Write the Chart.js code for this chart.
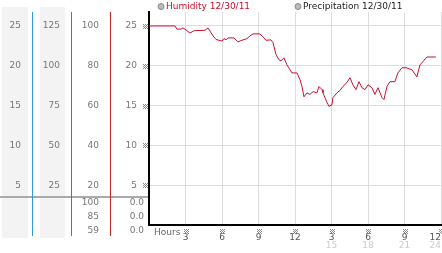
<!DOCTYPE html>
<html>
<head>
<meta charset="utf-8">
<script src="https://cdn.jsdelivr.net/npm/chart.js@4/dist/chart.umd.min.js"></script>
<style>
  html, body { margin: 0; padding: 0; background: #fff; }
  canvas { display: block; }
</style>
</head>
<body>
<canvas id="chart" width="442" height="253"></canvas>
<script>
// humidity readings of the day (hour of day, value)
const hours = [0, 2.14, 2.30, 2.63, 2.79, 3.04, 3.37, 3.70, 4.60, 4.85, 5.26, 5.51, 6.00, 6.16, 6.33, 6.49,
  6.98, 7.31, 7.72, 8.05, 8.30, 8.55, 9.12, 9.45, 9.61, 10.02, 10.19, 10.44, 10.68, 10.85, 11.09, 11.34,
  11.59, 11.75, 12.16, 12.41, 12.57, 12.74, 12.98, 13.23, 13.48, 13.80, 13.97, 14.22, 14.30, 14.46, 14.63,
  14.79, 15.04, 15.12, 15.45, 15.69, 15.94, 16.27, 16.52, 16.76, 17.01, 17.26, 17.50, 17.75, 18.00, 18.32,
  18.57, 18.82, 19.15, 19.31, 19.56, 19.80, 20.21, 20.46, 20.79, 21.12, 21.61, 22.02, 22.27, 22.51, 22.84, 23.58];
const humidity = [25.0, 25.0, 24.6, 24.6, 24.75, 24.5, 24.1, 24.4, 24.45, 24.75, 23.75, 23.3, 23.1, 23.4, 23.25, 23.5,
  23.5, 23.0, 23.25, 23.4, 23.75, 24.0, 24.0, 23.5, 23.2, 23.25, 22.9, 21.4, 20.75, 20.6, 21.0, 20.1,
  19.5, 19.1, 19.1, 18.25, 17.4, 16.1, 16.6, 16.4, 16.75, 16.6, 17.4, 17.0, 16.6, 16.0, 15.4,
  14.9, 15.1, 16.0, 16.6, 16.9, 17.4, 17.9, 18.5, 17.6, 17.0, 18.0, 17.25, 17.0, 17.6, 17.25,
  16.4, 17.25, 16.0, 15.75, 17.4, 18.0, 18.0, 19.1, 19.75, 19.75, 19.5, 18.6, 20.1, 20.5, 21.1, 21.1];

// axis ticks
const hourTicks = [0, 3, 6, 9, 12, 15, 18, 21, 24];
const hourLabels = ['', '3', '6', '9', '12', '3', '6', '9', '12'];
const hour24Labels = ['', '', '', '', '', '15', '18', '21', '24'];
const col1Ticks = [5, 10, 15, 20, 25];
const col2Ticks = [25, 50, 75, 100, 125];
const col3Ticks = [20, 40, 60, 80, 100];
const col4Ticks = [5, 10, 15, 20, 25];

// summary rows under the left columns
const col3Summary = ['100', '85', '59'];
const col4Summary = ['0.0', '0.0', '0.0'];

const legendLabels = ['Humidity 12/30/11', 'Precipitation 12/30/11'];
const legendTextColors = ['#c8102e', '#222'];

const font = { family: 'DejaVu Sans', size: 9 };
const tightFont = { family: 'DejaVu Sans', size: 9, lineHeight: 1 };
const Y_MAX = 26.75;

function columnAxis(weight, width, scale, values) {
  return {
    type: 'linear', position: 'left', weight: weight,
    min: 0, max: Y_MAX * scale,
    grid: { display: false, drawTicks: false },
    border: { display: false },
    ticks: { padding: 12, color: '#777', font: font, callback: v => String(v) },
    afterBuildTicks: s => { s.ticks = values.map(v => ({ value: v })); },
    afterFit: s => { s.width = width; s.paddingTop = 0; s.paddingBottom = 0; }
  };
}

function drawGlyph(ctx, x, y) {
  // little hatched tick marker
  ctx.fillStyle = '#888';
  for (let i = 0; i < 5; i++) {
    for (let j = 0; j < 5; j++) {
      if ((i + j) % 2 === 0) ctx.fillRect(x + i, y + j, 1, 1);
    }
  }
}

const decorations = {
  id: 'decorations',
  beforeDraw(chart) {
    const { ctx, chartArea, scales } = chart;
    ctx.save();
    ctx.fillStyle = '#f3f3f3';
    ctx.fillRect(scales.c1.left + 2, 7, scales.c1.width - 7, 231);
    ctx.fillRect(scales.c2.left + 7, 7, scales.c2.width - 14, 231);

    const sepY = chartArea.bottom - 28;
    ctx.fillStyle = '#aaa';
    ctx.fillRect(0, sepY - 1, chartArea.left, 2);

    const lines = [[scales.c1, '#2f9bd0'], [scales.c2, '#22a822'], [scales.c3, '#c02828']];
    lines.forEach(([s, c]) => {
      ctx.fillStyle = c;
      ctx.fillRect(Math.round(s.right) - 1, chartArea.top, 1, 224);
    });
    ctx.restore();
  },
  afterDraw(chart) {
    const { ctx, chartArea, scales } = chart;
    ctx.save();
    scales.y.ticks.forEach(t => drawGlyph(ctx, chartArea.left - 6, Math.round(scales.y.getPixelForValue(t.value)) - 2));
    scales.x.ticks.forEach(t => {
      if (t.value > 0) drawGlyph(ctx, Math.round(scales.x.getPixelForValue(t.value)) - 2, chartArea.bottom + 4);
    });

    ctx.font = '9px "DejaVu Sans"';
    ctx.textBaseline = 'middle';
    ctx.textAlign = 'right';
    ctx.fillStyle = '#777';
    const rowY = chartArea.bottom - 22;
    col3Summary.forEach((t, i) => ctx.fillText(t, scales.c3.right - 12, rowY + i * 14));
    col4Summary.forEach((t, i) => ctx.fillText(t, chartArea.left - 5, rowY + i * 14));

    ctx.textAlign = 'left';
    ctx.fillStyle = '#666';
    ctx.fillText('Hours', chartArea.left + 5, chartArea.bottom + 8);

    // legend row
    const legendX = [161, 298];
    legendLabels.forEach((label, i) => {
      ctx.beginPath();
      ctx.arc(legendX[i], 6.5, 3, 0, Math.PI * 2);
      ctx.fillStyle = '#bbb';
      ctx.fill();
      ctx.strokeStyle = '#888';
      ctx.lineWidth = 1;
      ctx.stroke();
      ctx.fillStyle = legendTextColors[i];
      ctx.fillText(label, legendX[i] + 5, 7);
    });
    ctx.restore();
  }
};

new Chart(document.getElementById('chart'), {
  type: 'line',
  data: {
    datasets: [{
      label: legendLabels[0],
      data: hours.map((h, i) => ({ x: h, y: humidity[i] })),
      borderColor: '#c8102e',
      borderWidth: 1,
      pointRadius: 0,
      tension: 0,
      fill: false,
      yAxisID: 'y'
    }]
  },
  options: {
    responsive: false,
    animation: false,
    layout: { padding: { top: 12, right: 1, left: 0, bottom: 0 } },
    plugins: { legend: { display: false }, tooltip: { enabled: false } },
    scales: {
      c1: columnAxis(4, 33, 1, col1Ticks),
      c2: columnAxis(3, 39, 5, col2Ticks),
      c3: columnAxis(2, 39, 4, col3Ticks),
      y: {
        type: 'linear', position: 'left', weight: 1,
        min: 0, max: Y_MAX,
        grid: { color: '#ddd', drawTicks: false },
        border: { color: '#000', width: 2 },
        ticks: { padding: 12, color: '#777', font: font },
        afterBuildTicks: s => { s.ticks = col4Ticks.map(v => ({ value: v })); },
        afterFit: s => { s.width = 38; s.paddingTop = 0; s.paddingBottom = 0; }
      },
      x: {
        type: 'linear', position: 'bottom', weight: 1,
        min: 0, max: 24,
        grid: { color: '#ddd', drawTicks: false },
        border: { color: '#000', width: 2 },
        ticks: {
          align: 'inner', padding: 8, color: '#555', font: tightFont, maxRotation: 0, autoSkip: false,
          callback: (v, i) => hourLabels[i]
        },
        afterBuildTicks: s => { s.ticks = hourTicks.map(v => ({ value: v })); },
        afterFit: s => { s.height = 16; s.paddingLeft = 0; s.paddingRight = 0; }
      },
      x2: {
        type: 'linear', position: 'bottom', weight: 2,
        min: 0, max: 24,
        grid: { display: false, drawTicks: false },
        border: { display: false },
        ticks: {
          align: 'inner', padding: 0, color: '#ccc', font: tightFont, maxRotation: 0, autoSkip: false,
          callback: (v, i) => hour24Labels[i]
        },
        afterBuildTicks: s => { s.ticks = hourTicks.map(v => ({ value: v })); },
        afterFit: s => { s.height = 12; s.paddingLeft = 0; s.paddingRight = 0; }
      }
    }
  },
  plugins: [decorations]
});
</script>
</body>
</html>
